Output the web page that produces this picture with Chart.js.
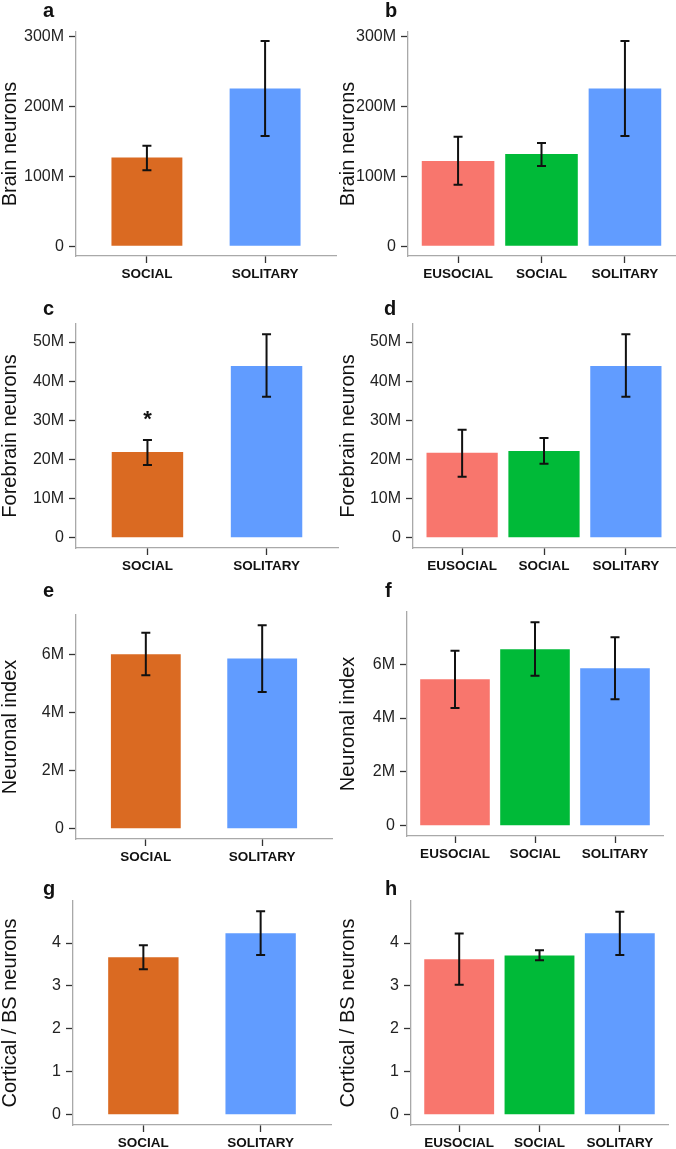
<!DOCTYPE html>
<html lang="en">
<head>
<meta charset="UTF-8">
<title>Neuron counts by sociality</title>
<script src="https://cdn.jsdelivr.net/npm/chart.js"></script>
<style>
  body { margin: 0; background: #fff; }
  #page { position: relative; width: 676px; height: 1149px; overflow: hidden; }
  #page canvas { position: absolute; left: 0; top: 0; }
  .tag { position: absolute; font: bold 20px 'Liberation Sans', Arial, sans-serif; line-height: 20px; color: #111; }
</style>
</head>
<body>
<div id="page"></div>
<script>
// groups
const groups2 = ['SOCIAL', 'SOLITARY'];
const groups3 = ['EUSOCIAL', 'SOCIAL', 'SOLITARY'];
const colors2 = ['#DA6A22', '#619CFF'];
const colors3 = ['#F8766D', '#00BA38', '#619CFF'];

// brain neurons (millions)
const brain2 = [127, 226];
const brain2Lo = [109, 158];
const brain2Hi = [144, 294];
const brain3 = [122, 132, 226];
const brain3Lo = [88, 115, 158];
const brain3Hi = [157, 148, 294];
const brainTicks = [0, 100, 200, 300];

// forebrain neurons (millions)
const fore2 = [21.9, 43.9];
const fore2Lo = [18.6, 36];
const fore2Hi = [25, 52];
const fore3 = [21.7, 22.2, 43.9];
const fore3Lo = [15.6, 18.9, 36];
const fore3Hi = [27.6, 25.5, 52];
const foreTicks = [0, 10, 20, 30, 40, 50];

// neuronal index (millions)
const index2 = [6.02, 5.87];
const index2Lo = [5.29, 4.72];
const index2Hi = [6.76, 7.02];
const index3 = [5.44, 6.56, 5.85];
const index3Lo = [4.37, 5.57, 4.70];
const index3Hi = [6.50, 7.56, 7.00];
const indexTicks = [0, 2, 4, 6];

// cortical / brainstem neuron ratio
const ratio2 = [3.67, 4.23];
const ratio2Lo = [3.39, 3.72];
const ratio2Hi = [3.95, 4.74];
const ratio3 = [3.62, 3.71, 4.23];
const ratio3Lo = [3.03, 3.60, 3.72];
const ratio3Hi = [4.22, 3.83, 4.73];
const ratioTicks = [0, 1, 2, 3, 4];

const stars2 = ['*', ''];

const FONT = "'Liberation Sans', Arial, sans-serif";
const W = 676, H = 1149;

// box = [canvas left, plot left, plot top, plot right, plot bottom]
const panels = [
  { tag: 'a', tagPos: [43, 0],   cats: groups2, colors: colors2, mean: brain2, lo: brain2Lo, hi: brain2Hi, ticks: brainTicks, unit: 'M', title: 'Brain neurons', min: -14, max: 307, box: [0, 76, 32, 336, 256] },
  { tag: 'b', tagPos: [385, 0],  cats: groups3, colors: colors3, mean: brain3, lo: brain3Lo, hi: brain3Hi, ticks: brainTicks, unit: 'M', title: 'Brain neurons', min: -14, max: 307, box: [338, 408, 32, 675, 256] },
  { tag: 'c', tagPos: [43, 298], cats: groups2, colors: colors2, mean: fore2, lo: fore2Lo, hi: fore2Hi, ticks: foreTicks, unit: 'M', title: 'Forebrain neurons', min: -2.6, max: 54.6, box: [0, 76, 324, 338, 548], marks: stars2 },
  { tag: 'd', tagPos: [384, 298], cats: groups3, colors: colors3, mean: fore3, lo: fore3Lo, hi: fore3Hi, ticks: foreTicks, unit: 'M', title: 'Forebrain neurons', min: -2.6, max: 54.6, box: [338, 413, 324, 675, 548] },
  { tag: 'e', tagPos: [43, 580], cats: groups2, colors: colors2, mean: index2, lo: index2Lo, hi: index2Hi, ticks: indexTicks, unit: 'M', title: 'Neuronal index', min: -0.35, max: 7.37, box: [0, 76, 615, 332, 839] },
  { tag: 'f', tagPos: [385, 580], cats: groups3, colors: colors3, mean: index3, lo: index3Lo, hi: index3Hi, ticks: indexTicks, unit: 'M', title: 'Neuronal index', min: -0.38, max: 7.94, box: [338, 407, 612, 663, 836] },
  { tag: 'g', tagPos: [43, 878], cats: groups2, colors: colors2, mean: ratio2, lo: ratio2Lo, hi: ratio2Hi, ticks: ratioTicks, unit: '', title: 'Cortical / BS neurons', min: -0.24, max: 4.98, box: [0, 73, 901, 331, 1125] },
  { tag: 'h', tagPos: [385, 878], cats: groups3, colors: colors3, mean: ratio3, lo: ratio3Lo, hi: ratio3Hi, ticks: ratioTicks, unit: '', title: 'Cortical / BS neurons', min: -0.24, max: 4.98, box: [338, 411, 901, 668, 1125] }
];

// error bars + significance marks, placed through the y scale
const errorBars = {
  id: 'errorBars',
  afterDatasetsDraw(chart, args, opts) {
    const ctx = chart.ctx;
    const ys = chart.scales.y;
    const bars = chart.getDatasetMeta(0).data;
    ctx.save();
    ctx.strokeStyle = '#111';
    ctx.lineWidth = 2;
    bars.forEach((bar, i) => {
      const top = ys.getPixelForValue(opts.hi[i]);
      const bot = ys.getPixelForValue(opts.lo[i]);
      ctx.beginPath();
      ctx.moveTo(bar.x, top); ctx.lineTo(bar.x, bot);
      ctx.moveTo(bar.x - 4.5, top); ctx.lineTo(bar.x + 4.5, top);
      ctx.moveTo(bar.x - 4.5, bot); ctx.lineTo(bar.x + 4.5, bot);
      ctx.stroke();
      if (opts.marks && opts.marks[i]) {
        ctx.fillStyle = '#111';
        ctx.font = 'bold 22px ' + FONT;
        ctx.textAlign = 'center';
        ctx.textBaseline = 'alphabetic';
        ctx.fillText(opts.marks[i], bar.x, top - 14);
      }
    });
    ctx.restore();
  }
};

const page = document.getElementById('page');

panels.forEach(p => {
  const [cx, L, T, R, B] = p.box;
  const canvas = document.createElement('canvas');
  canvas.width = W;
  canvas.height = H;
  page.appendChild(canvas);

  const tag = document.createElement('div');
  tag.className = 'tag';
  tag.textContent = p.tag;
  tag.style.left = p.tagPos[0] + 'px';
  tag.style.top = p.tagPos[1] + 'px';
  page.appendChild(tag);

  const axisGrid = { offset: false, drawOnChartArea: false, drawTicks: true, tickLength: 7, color: '#333', tickColor: '#333', tickWidth: 1.3 };
  const axisBorder = { display: true, color: '#a9a9a9', width: 1.3 };

  new Chart(canvas.getContext('2d'), {
    type: 'bar',
    data: {
      datasets: [{
        data: p.mean.map((v, i) => ({ x: i + 1, y: v })),
        backgroundColor: p.colors,
        borderWidth: 0,
        categoryPercentage: 1,
        barPercentage: p.cats.length === 2 ? 0.6 : 0.87
      }]
    },
    options: {
      responsive: false,
      animation: false,
      devicePixelRatio: 1,
      layout: { padding: { left: cx, top: T, right: W - R, bottom: 0 } },
      plugins: {
        legend: { display: false },
        tooltip: { enabled: false },
        errorBars: { lo: p.lo, hi: p.hi, marks: p.marks }
      },
      scales: {
        x: {
          type: 'linear',
          min: 0.4,
          max: p.cats.length + 0.6,
          offset: false,
          afterBuildTicks: s => { s.ticks = p.cats.map((c, i) => ({ value: i + 1 })); },
          afterFit: s => { s.height = H - B; },
          ticks: {
            callback: (v, i) => p.cats[i],
            autoSkip: false,
            maxRotation: 0,
            padding: 3,
            color: '#111',
            font: { family: FONT, size: 13.5, weight: 'bold' }
          },
          grid: axisGrid,
          border: axisBorder
        },
        y: {
          min: p.min,
          max: p.max,
          afterBuildTicks: s => { s.ticks = p.ticks.map(v => ({ value: v })); },
          afterFit: s => { s.width = L - cx; },
          ticks: {
            callback: v => (v === 0 ? '0' : v + p.unit),
            padding: 5,
            color: '#222',
            font: { family: FONT, size: 16 }
          },
          grid: axisGrid,
          border: axisBorder,
          title: {
            display: true,
            text: p.title,
            color: '#111',
            padding: 0,
            font: { family: FONT, size: 20, lineHeight: 1 }
          }
        }
      }
    },
    plugins: [errorBars]
  });
});
</script>
</body>
</html>
